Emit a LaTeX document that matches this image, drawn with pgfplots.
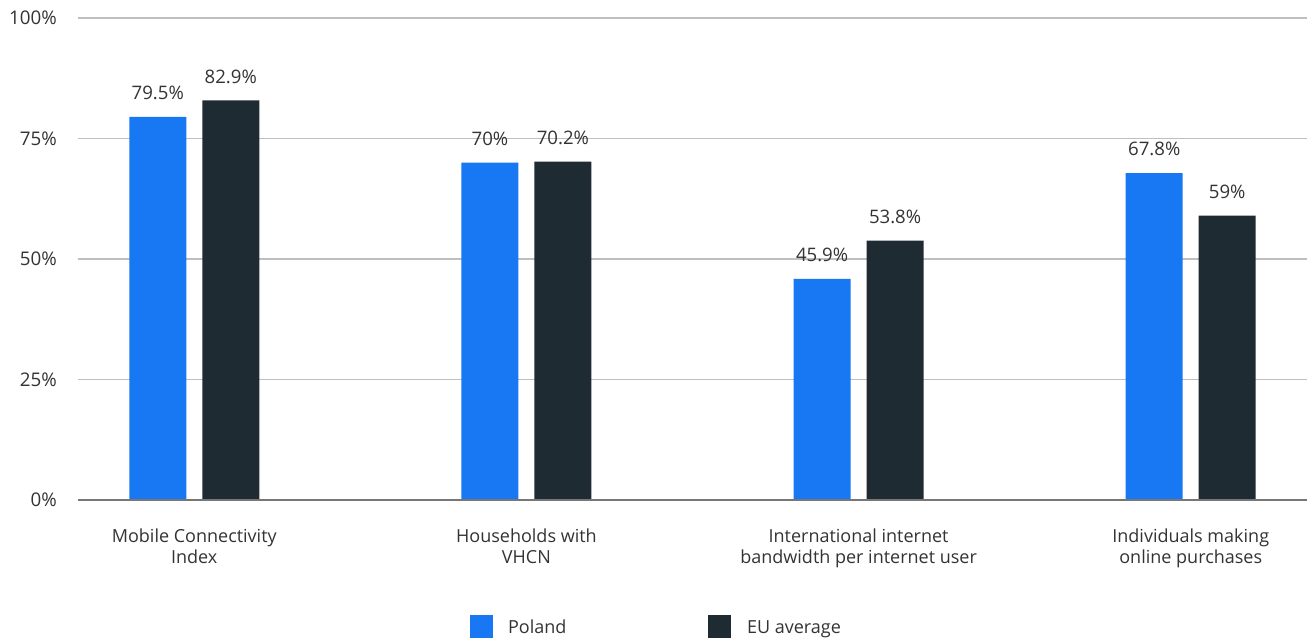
\documentclass[border=0pt]{standalone}
\usepackage{pgfplots}
\pgfplotsset{compat=1.18}
\usepackage{fontspec}
\setmainfont{Open Sans}
\definecolor{pl}{HTML}{1877F2}
\definecolor{eu}{HTML}{1F2B32}
\definecolor{txt}{HTML}{333333}
\definecolor{grid}{HTML}{AAAAAA}
\begin{document}
\begin{tikzpicture}[x=1pt,y=1pt]
\path[use as bounding box] (0,0) rectangle (653.5,319);
\begin{axis}[
  at={(39pt,69pt)}, anchor=south west,
  scale only axis, width=614.5pt, height=241pt,
  xmin=-0.35, xmax=3.35, ymin=0, ymax=100,
  axis line style={draw=none},
  ytick={0,25,50,75,100},
  yticklabels={0\%,25\%,50\%,75\%,100\%},
  yticklabel style={font=\fontsize{9.4}{10}\selectfont, text=txt, xshift=-7pt},
  ymajorgrids, major grid style={grid, line width=0.6pt},
  major tick length=0pt,
  xtick=\empty,
  ybar, bar width=28.5pt,
  clip=false,
  nodes near coords, point meta=explicit symbolic,
  every node near coord/.append style={font=\fontsize{9.3}{10}\selectfont, text=txt, yshift=5pt},
]
\addplot[fill=pl, draw=none, bar shift=-18.25pt] coordinates {(0,79.5)[79.5\%] (1,70)[70\%] (2,45.9)[45.9\%] (3,67.8)[67.8\%]};
\addplot[fill=eu, draw=none, bar shift=18.25pt] coordinates {(0,82.9)[82.9\%] (1,70.2)[70.2\%] (2,53.8)[53.8\%] (3,59)[59\%]};
\draw[grid!70!black, line width=0.7pt] (axis cs:-0.35,0) -- (axis cs:3.35,0);
\foreach \i/\l in {0/{Mobile Connectivity\\Index},1/{Households with\\VHCN},2/{International internet\\bandwidth per internet user},3/{Individuals making\\online purchases}}{
  \edef\tmp{\noexpand\node[anchor=north, align=center, font=\noexpand\fontsize{9}{10.5}\noexpand\selectfont, text=txt] at (axis cs:\i,0) [yshift=-11pt] {\l};}
  \tmp
}
\end{axis}
\fill[pl] (235,0) rectangle (246.5,11.5);
\node[anchor=base west, font=\fontsize{9}{10}\selectfont, text=txt] at (250.5,2.5) {Poland};
\fill[eu] (354,0) rectangle (365.5,11.5);
\node[anchor=base west, font=\fontsize{9}{10}\selectfont, text=txt] at (370,2.5) {EU average};
\end{tikzpicture}
\end{document}
